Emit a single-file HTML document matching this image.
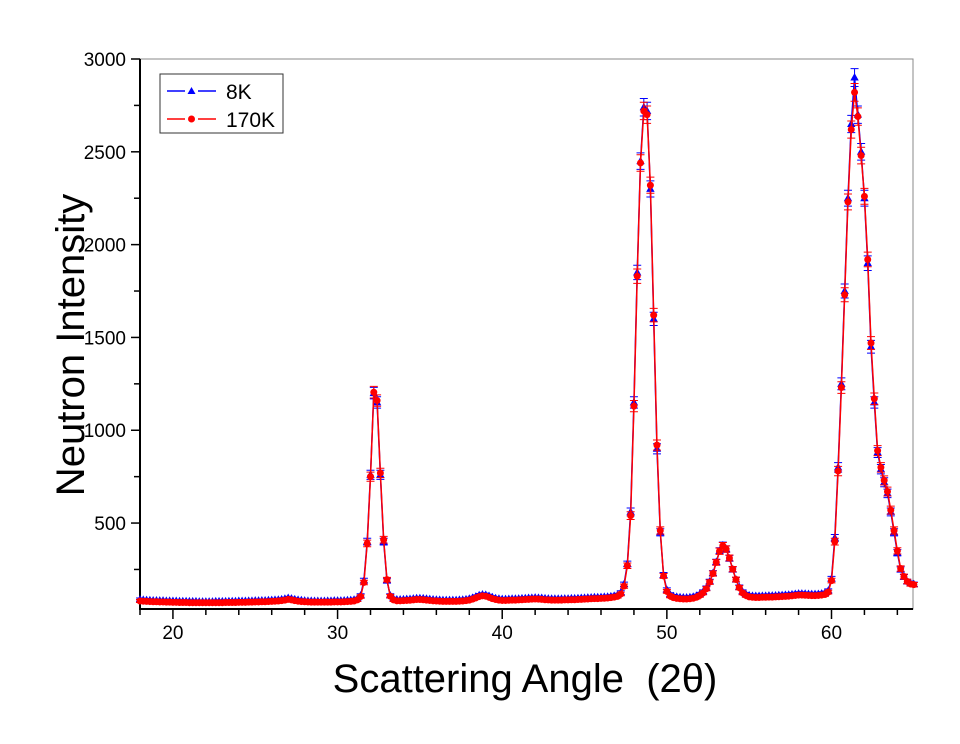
<!DOCTYPE html>
<html><head><meta charset="utf-8"><style>
html,body{margin:0;padding:0;background:#fff;}
svg{display:block;font-family:"Liberation Sans",Arial,sans-serif;}
</style></head><body>
<svg id="chart" width="960" height="744" viewBox="0 0 960 744">
<rect width="960" height="744" fill="#fff"/>
<g id="axes"></g>
<g id="series"></g>
<text x="525" y="692" font-size="40" text-anchor="middle">Scattering Angle&#160; (2θ)</text>
<text transform="translate(84,345) rotate(-90)" font-size="40" text-anchor="middle">Neutron Intensity</text>
<g>
<rect x="160" y="74" width="123" height="59" fill="#fff" stroke="#333" stroke-width="1"/>
<g>
<line x1="167" y1="91" x2="185" y2="91" stroke="#0000ff" stroke-width="1.5"/>
<line x1="198" y1="91" x2="216" y2="91" stroke="#0000ff" stroke-width="1.5"/>
<path d="M191.5,87 L195.5,94 L187.5,94 Z" fill="#0000ff"/>
<text x="226" y="99" font-size="21">8K</text>
</g>
<g>
<line x1="167" y1="119" x2="185" y2="119" stroke="#ff0000" stroke-width="1.5"/>
<line x1="198" y1="119" x2="216" y2="119" stroke="#ff0000" stroke-width="1.5"/>
<circle cx="191.5" cy="119" r="3.5" fill="#ff0000"/>
<text x="226" y="127" font-size="21">170K</text>
</g>
</g>
</svg>
<script>
const angleStart = 18, angleStep = 0.2;
const series8K = [88,86,85,84,83,83,82,82,81,81,80,80,79,79,79,78,78,78,77,77,77,77,77,78,78,78,78,79,79,79,80,80,80,81,81,82,82,83,83,84,85,86,87,89,92,96,93,89,86,84,82,81,81,80,80,80,80,81,81,82,82,82,83,84,85,87,
92,110,190,400,760,1200,1150,760,400,190,110,92,
88,88,89,90,91,93,95,95,94,92,90,88,87,86,85,85,85,85,85,86,87,89,92,97,104,111,115,113,107,100,95,92,90,90,91,92,92,93,94,95,96,97,98,97,96,94,93,92,92,92,92,93,93,94,94,95,96,97,98,99,100,100,101,102,103,105,108,112,
125,170,280,560,1150,1850,2450,2740,2720,2300,1600,900,450,220,140,
115,106,102,100,99,99,100,103,108,117,
130,150,185,230,290,350,380,360,310,250,195,155,130,117,
110,108,107,107,108,108,109,109,110,111,112,113,114,116,118,120,120,119,118,117,117,118,120,123,135,
200,420,800,1250,1750,2250,2650,2900,2700,2500,2250,1900,1450,1150,880,790,720,660,560,450,340,250,210,185,175,170];
const series170K = [80,79,78,77,76,76,75,75,74,74,73,73,72,72,72,71,71,71,71,71,71,71,71,71,71,71,72,72,72,72,73,73,73,74,74,75,75,76,76,77,78,79,80,82,85,89,86,82,79,77,76,75,74,74,74,74,74,74,74,75,75,75,76,77,78,80,
86,104,180,390,750,1205,1160,770,410,195,106,86,
81,81,82,83,84,86,88,88,87,85,83,81,80,79,78,78,78,78,78,79,80,82,85,90,97,104,108,106,100,93,88,85,83,83,84,85,85,86,87,88,89,90,91,90,89,87,86,85,85,85,85,86,86,87,87,88,89,90,91,92,93,93,94,95,96,98,101,105,
118,160,270,540,1130,1830,2440,2720,2700,2320,1620,920,460,215,132,
107,98,94,92,91,91,92,95,100,110,
124,146,182,228,288,348,378,360,312,252,196,152,124,110,
102,100,99,99,100,100,101,101,102,103,104,105,106,108,110,112,112,111,110,109,109,110,112,115,128,
190,400,780,1230,1730,2230,2620,2820,2690,2480,2260,1920,1470,1170,890,800,730,670,570,460,350,255,212,185,172,168];
const xTicks = [20,30,40,50,60];
const yTicks = [500,1000,1500,2000,2500,3000];

const NS = "http://www.w3.org/2000/svg";
const L=140,R=913,T=59,B=609;
const xMin=18,xMax=64.95,yMin=37,yMax=3000;
const X=v=>L+(v-xMin)/(xMax-xMin)*(R-L);
const Y=v=>B-(v-yMin)/(yMax-yMin)*(B-T);
function mk(tag,attrs,parent){const e=document.createElementNS(NS,tag);for(const k in attrs)e.setAttribute(k,attrs[k]);parent.appendChild(e);return e;}
const axes=document.getElementById('axes');
const ser=document.getElementById('series');

let e;
e=mk('rect',{x:L,y:T,width:R-L,height:B-T,fill:'none',stroke:'#888','stroke-width':1},axes);


e=mk('line',{x1:L,y1:T,x2:L,y2:B+1,stroke:'#000','stroke-width':2},axes);


e=mk('line',{x1:L-1,y1:B,x2:R,y2:B,stroke:'#000','stroke-width':2},axes);



for(let v=18; v<=64; v+=2){
  if(v%10===0) continue;
  e=mk('line',{x1:X(v),y1:B,x2:X(v),y2:B+6,stroke:'#000','stroke-width':1.5},axes);
  
  
}
xTicks.forEach(v=>{
  e=mk('line',{x1:X(v),y1:B,x2:X(v),y2:B+10,stroke:'#000','stroke-width':1.5},axes);
  
  
  e=mk('text',{x:X(v),y:B+30,'font-size':19,'text-anchor':'middle'},axes);
  e.textContent=v;
  
  
});
for(let v=250; v<3000; v+=500){
  e=mk('line',{x1:L-6,y1:Y(v),x2:L,y2:Y(v),stroke:'#000','stroke-width':1.5},axes);
  
  
}
yTicks.forEach(v=>{
  e=mk('line',{x1:L-9,y1:Y(v),x2:L,y2:Y(v),stroke:'#000','stroke-width':1.5},axes);
  
  
  e=mk('text',{x:L-14,y:Y(v)+7,'font-size':19,'text-anchor':'end'},axes);
  e.textContent=v;
  
  
});

function drawSeries(vals,color,shape,name){
  const g=mk('g',{},ser);
  
  
  const pts=vals.map((v,i)=>[X(angleStart+i*angleStep),Y(v)]);
  const line=mk('polyline',{points:pts.map(p=>p.join(',')).join(' '),fill:'none',stroke:color,'stroke-width':1.5},g);
  
  
  vals.forEach((v,i)=>{
    const x=X(angleStart+i*angleStep), y=Y(v);
    const err=Math.sqrt(v)*0.9;
    const eb=mk('path',{d:`M${x},${Y(v+err)}V${Y(v-err)}M${x-4},${Y(v+err)}h8M${x-4},${Y(v-err)}h8`,stroke:color,'stroke-width':1,fill:'none'},g);
    
    
    let m;
    if(shape==='tri') m=mk('path',{d:`M${x},${y-4.5} L${x+4.2},${y+3} L${x-4.2},${y+3} Z`,fill:color},g);
    else m=mk('circle',{cx:x,cy:y,r:3.5,fill:color},g);
    
    
  });
}
drawSeries(series8K,'#0000ff','tri','series-8k');
drawSeries(series170K,'#ff0000','circ','series-170k');
</script>
</body></html>
